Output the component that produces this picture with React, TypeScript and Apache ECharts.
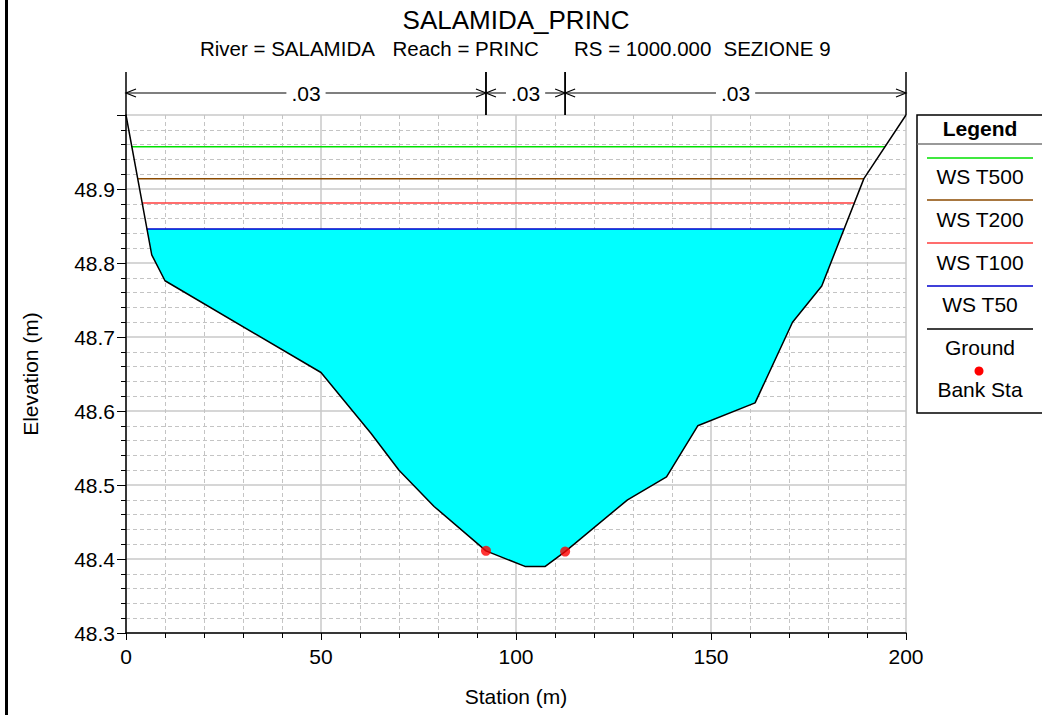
import React, { useEffect, useRef } from "react";
import * as echarts from "echarts";

const FONT = "'Liberation Sans', Arial, Helvetica, sans-serif";

// Ground profile (station m, elevation m)
const groundStation = [0, 6.6, 10, 50, 62.8, 70, 79, 92.3, 102.3, 107.5, 112.6, 128.6, 138.6, 146.6, 161.3, 170.9, 178.4, 189.2, 200];
const groundElev = [49.0, 48.811, 48.776, 48.652, 48.57, 48.52, 48.471, 48.411, 48.39, 48.39, 48.41, 48.48, 48.511, 48.58, 48.611, 48.72, 48.769, 48.914, 49.0];

// Water surfaces
const wsNames = ["WS T500", "WS T200", "WS T100", "WS T50"];
const wsElev = [48.957, 48.914, 48.881, 48.846];
const wsLeft = [1.5, 3.1, 4.2, 5.3];
const wsRight = [194.6, 189.2, 186.6, 184.0];
const wsColors = ["#00e000", "#8b4a00", "#ff3c3c", "#0000cc"];

// Bank stations
const bankStation = [92.3, 112.6];
const bankElev = [48.411, 48.41];

// Manning's n segments
const nBreaks = [0, 92.3, 112.6, 200];
const nLabels = [".03", ".03", ".03"];

// Axes
const xMin = 0, xMax = 200, xInterval = 50;
const yMin = 48.3, yMax = 49.0, yInterval = 0.1;

const titleText = "SALAMIDA_PRINC";
const subtitleParts = ["River = SALAMIDA", "Reach = PRINC", "RS = 1000.000", "SEZIONE 9"];
const subtitleX = [200, 392.5, 574, 723.5];

const FS = 21;

export default function App() {
  const ref = useRef<HTMLDivElement>(null);
  useEffect(() => {
    if (!ref.current) return;
    const chart = echarts.init(ref.current, undefined, { renderer: "svg" });

    const groundData = groundStation.map((s, i) => [s, groundElev[i]]);
    const fillIdx = 3; // WS T50 is the plotted fill
    const fillPts: number[][] = [[wsLeft[fillIdx], wsElev[fillIdx]]];
    groundData.forEach((p) => {
      if (p[0] > wsLeft[fillIdx] && p[0] < wsRight[fillIdx]) fillPts.push(p);
    });
    fillPts.push([wsRight[fillIdx], wsElev[fillIdx]]);

    const legendItems: any[] = [];
    const lx0 = 927, lx1 = 1033, lcx = 980;
    const lineYs = [158, 200, 243, 286, 329];
    const textYs = [176, 219, 262, 304, 347];
    const legColors = [...wsColors, "#000000"];
    const legNames = [...wsNames, "Ground"];
    legNames.forEach((n, i) => {
      legendItems.push({
        type: "line",
        shape: { x1: lx0, y1: lineYs[i], x2: lx1, y2: lineYs[i] },
        style: { stroke: legColors[i], lineWidth: 1.5 },
      });
      legendItems.push({
        type: "text",
        x: lcx,
        y: textYs[i],
        style: { text: n, fill: "#000", font: `${FS}px ${FONT}`, align: "center", verticalAlign: "middle" },
      });
    });
    legendItems.push({ type: "circle", shape: { cx: 979, cy: 371, r: 4.5 }, style: { fill: "#ff0000" } });
    legendItems.push({
      type: "text",
      x: lcx,
      y: 389,
      style: { text: "Bank Sta", fill: "#000", font: `${FS}px ${FONT}`, align: "center", verticalAlign: "middle" },
    });

    const option: any = {
      animation: false,
      backgroundColor: "#ffffff",
      textStyle: { fontFamily: FONT },
      grid: { left: 126, right: 136, top: 115, bottom: 82, containLabel: false },
      xAxis: {
        type: "value",
        min: xMin,
        max: xMax,
        interval: xInterval,
        name: "Station (m)",
        nameLocation: "middle",
        nameGap: 53,
        nameTextStyle: { fontSize: FS, color: "#000", fontFamily: FONT },
        axisLine: { show: true, onZero: false, lineStyle: { color: "#000", width: 1.5 } },
        axisTick: { show: true, length: 7, lineStyle: { color: "#000", width: 1 } },
        minorTick: { show: true, splitNumber: 5, length: 5, lineStyle: { color: "#000", width: 1 } },
        splitLine: { show: true, lineStyle: { color: "#c8c8c8", width: 1.5 } },
        minorSplitLine: { show: true, lineStyle: { color: "#c4c4c4", width: 1, type: [4, 3] } },
        axisLabel: { fontSize: FS, color: "#000", margin: 13, fontFamily: FONT },
      },
      yAxis: {
        type: "value",
        min: yMin,
        max: yMax,
        interval: yInterval,
        name: "Elevation (m)",
        nameLocation: "middle",
        nameRotate: 90,
        nameGap: 85,
        nameTextStyle: { fontSize: FS, color: "#000", fontFamily: FONT },
        axisLine: { show: true, onZero: false, lineStyle: { color: "#000", width: 1.5 } },
        axisTick: { show: true, length: 9, lineStyle: { color: "#000", width: 1 } },
        minorTick: { show: true, splitNumber: 5, length: 5, lineStyle: { color: "#000", width: 1 } },
        splitLine: { show: true, lineStyle: { color: "#c8c8c8", width: 1.5 } },
        minorSplitLine: { show: true, lineStyle: { color: "#c4c4c4", width: 1, type: [4, 3] } },
        axisLabel: {
          fontSize: FS,
          color: "#000",
          margin: 11,
          fontFamily: FONT,
          showMaxLabel: false,
          formatter: (v: number) => v.toFixed(1),
        },
      },
      series: [
        {
          type: "custom",
          name: "fill",
          silent: true,
          z: 1,
          data: [[wsLeft[fillIdx], wsElev[fillIdx]]],
          renderItem: (_p: any, api: any) => ({
            type: "polygon",
            shape: { points: fillPts.map((p) => api.coord(p)) },
            style: { fill: "#00ffff", stroke: "none" },
          }),
        },
        ...wsNames.map((n, i) => ({
          type: "line",
          name: n,
          z: 2,
          symbol: "none",
          silent: true,
          data: [
            [wsLeft[i], wsElev[i]],
            [wsRight[i], wsElev[i]],
          ],
          lineStyle: { color: wsColors[i], width: 1.5 },
        })),
        {
          type: "line",
          name: "Ground",
          z: 3,
          symbol: "none",
          silent: true,
          data: groundData,
          lineStyle: { color: "#000", width: 1.5 },
        },
        {
          type: "scatter",
          name: "Bank Sta",
          z: 4,
          symbolSize: 10,
          silent: true,
          itemStyle: { color: "#ff0000" },
          data: bankStation.map((s, i) => [s, bankElev[i]]),
        },
        {
          type: "custom",
          name: "n",
          clip: false,
          silent: true,
          z: 5,
          data: nLabels.map((_l, i) => [nBreaks[i], nBreaks[i + 1], i]),
          renderItem: (_p: any, api: any) => {
            const s = api.value(0);
            const e = api.value(1);
            const label = nLabels[api.value(2)];
            const p0 = api.coord([s, yMax]);
            const p1 = api.coord([e, yMax]);
            const yl = p0[1] - 22;
            const yt = p0[1] - 43;
            const mid = (p0[0] + p1[0]) / 2;
            const st = { stroke: "#000", lineWidth: 1.2, fill: "none" };
            return {
              type: "group",
              children: [
                { type: "line", shape: { x1: p0[0], y1: yt, x2: p0[0], y2: p0[1] }, style: { stroke: "#000", lineWidth: 1.5 } },
                { type: "line", shape: { x1: p1[0], y1: yt, x2: p1[0], y2: p0[1] }, style: { stroke: "#000", lineWidth: 1.5 } },
                { type: "line", shape: { x1: p0[0], y1: yl, x2: p1[0], y2: yl }, style: { stroke: "#000", lineWidth: 1.2 } },
                { type: "polyline", shape: { points: [[p0[0] + 10, yl - 4], [p0[0], yl], [p0[0] + 10, yl + 4]] }, style: st },
                { type: "polyline", shape: { points: [[p1[0] - 10, yl - 4], [p1[0], yl], [p1[0] - 10, yl + 4]] }, style: st },
                {
                  type: "text",
                  x: mid,
                  y: yl,
                  style: {
                    text: label,
                    fill: "#000",
                    font: `${FS}px ${FONT}`,
                    align: "center",
                    verticalAlign: "middle",
                    backgroundColor: "#ffffff",
                    padding: [0, 5],
                  },
                },
              ],
            };
          },
        },
      ],
      graphic: [
        { type: "rect", shape: { x: 5, y: 0, width: 3, height: 715 }, style: { fill: "#000" } },
        {
          type: "text",
          x: 516,
          y: 20,
          style: { text: titleText, fill: "#000", font: `26px ${FONT}`, align: "center", verticalAlign: "middle" },
        },
        ...subtitleParts.map((t, i) => ({
          type: "text",
          x: subtitleX[i],
          y: 48,
          style: { text: t, fill: "#000", font: `20.5px ${FONT}`, align: "left", verticalAlign: "middle" },
        })),
        {
          type: "rect",
          shape: { x: 917, y: 115, width: 140, height: 298 },
          style: { fill: "#fff", stroke: "#000", lineWidth: 1.5 },
        },
        { type: "line", shape: { x1: 917, y1: 144, x2: 1042, y2: 144 }, style: { stroke: "#777", lineWidth: 1.5 } },
        {
          type: "text",
          x: 980,
          y: 128,
          style: { text: "Legend", fill: "#000", font: `bold ${FS}px ${FONT}`, align: "center", verticalAlign: "middle" },
        },
        ...legendItems,
      ],
    };
    chart.setOption(option);
    return () => chart.dispose();
  }, []);
  return <div ref={ref} style={{ position: "fixed", left: 0, top: 0, width: 1042, height: 715 }} />;
}
